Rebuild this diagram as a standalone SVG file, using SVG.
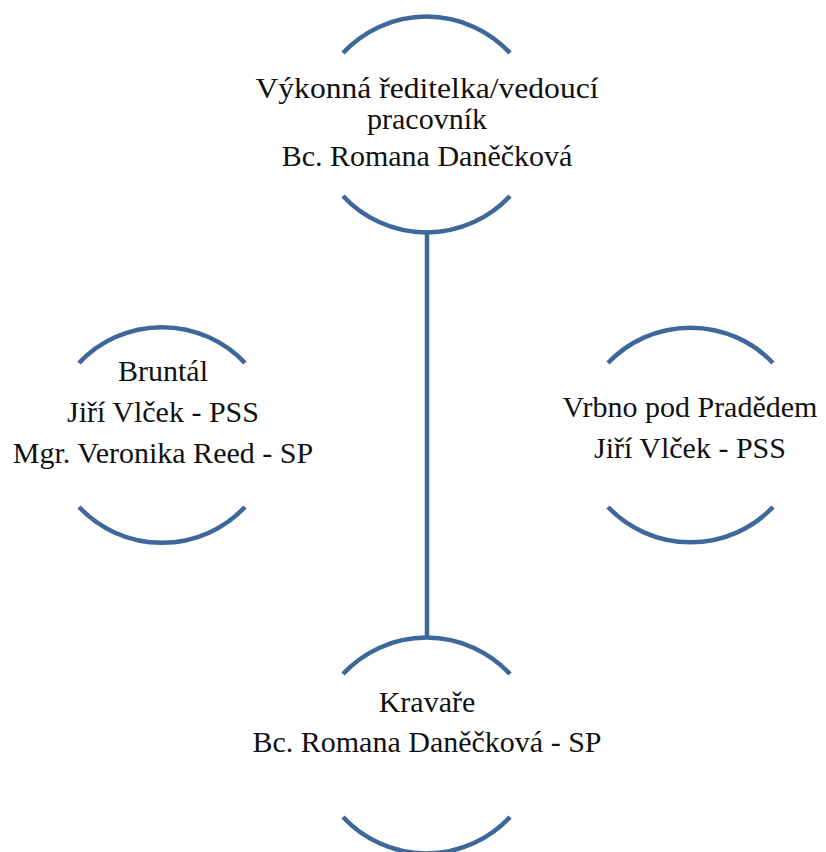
<svg xmlns="http://www.w3.org/2000/svg" width="826" height="852" viewBox="0 0 826 852">
<style>
.arc{fill:none;stroke:#3d6899;stroke-width:4.5;stroke-linecap:butt}
.conn{fill:none;stroke:#3d6899;stroke-width:4.5}
text{font-family:"Liberation Serif","Times New Roman",serif;font-size:30px;fill:#111;text-anchor:middle}
</style>
<rect width="826" height="852" fill="#fff"/>
<g id="connectors">
<line class="conn" x1="427" y1="231" x2="427" y2="636"/>
</g>
<g id="node-top">
<path class="arc" d="M343,53 A114,114 0 0,1 510,53"/>
<path class="arc" d="M343,196 A114,114 0 0,0 510,196"/>
<text x="427" y="98" textLength="343" lengthAdjust="spacingAndGlyphs">Výkonná ředitelka/vedoucí</text>
<text x="427" y="129">pracovník</text>
<text x="427" y="166">Bc. Romana Daněčková</text>
</g>
<g id="node-bruntal">
<path class="arc" d="M79,363 A114,114 0 0,1 245,363"/>
<path class="arc" d="M79,507 A114,114 0 0,0 245,507"/>
<text x="163" y="381">Bruntál</text>
<text x="163" y="422">Jiří Vlček - PSS</text>
<text x="163" y="463">Mgr. Veronika Reed - SP</text>
</g>
<g id="node-vrbno">
<path class="arc" d="M608,363 A114,114 0 0,1 773,363"/>
<path class="arc" d="M608,507 A114,114 0 0,0 773,507"/>
<text x="690" y="417">Vrbno pod Pradědem</text>
<text x="690" y="458">Jiří Vlček - PSS</text>
</g>
<g id="node-kravare">
<path class="arc" d="M343,674 A114,114 0 0,1 510,674"/>
<path class="arc" d="M343,817 A114,114 0 0,0 510,817"/>
<text x="427" y="712">Kravaře</text>
<text x="427" y="752">Bc. Romana Daněčková - SP</text>
</g>
</svg>
